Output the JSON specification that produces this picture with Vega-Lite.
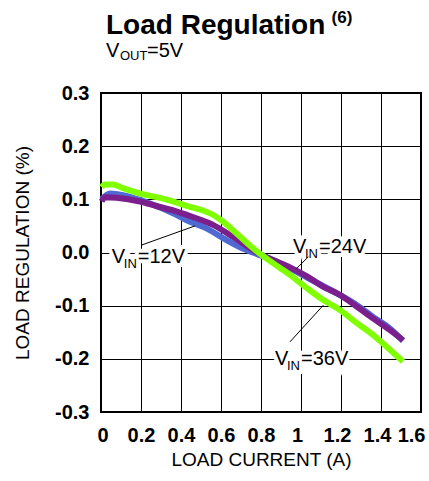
{
  "$schema": "https://vega.github.io/schema/vega-lite/v6.json",
  "width": 320,
  "height": 319,
  "autosize": "none",
  "padding": {"left": 101, "top": 93, "right": 8, "bottom": 69},
  "background": "white",
  "title": {
    "text": "Load Regulation",
    "anchor": "start",
    "frame": "group",
    "dx": 5,
    "offset": -53,
    "baseline": "alphabetic",
    "font": "Liberation Sans",
    "fontSize": 28,
    "fontWeight": "bold",
    "color": "black"
  },
  "datasets": {
    "curves": [
      {"vin": "12V", "current": 0.003, "reg": 0.100},
      {"vin": "12V", "current": 0.045, "reg": 0.111},
      {"vin": "12V", "current": 0.11, "reg": 0.108},
      {"vin": "12V", "current": 0.195, "reg": 0.099},
      {"vin": "12V", "current": 0.28, "reg": 0.087},
      {"vin": "12V", "current": 0.36, "reg": 0.074},
      {"vin": "12V", "current": 0.445, "reg": 0.058},
      {"vin": "12V", "current": 0.53, "reg": 0.045},
      {"vin": "12V", "current": 0.61, "reg": 0.027},
      {"vin": "12V", "current": 0.695, "reg": 0.010},
      {"vin": "12V", "current": 0.78, "reg": -0.003},
      {"vin": "12V", "current": 0.86, "reg": -0.014},
      {"vin": "12V", "current": 0.945, "reg": -0.030},
      {"vin": "12V", "current": 1.03, "reg": -0.047},
      {"vin": "12V", "current": 1.11, "reg": -0.063},
      {"vin": "12V", "current": 1.195, "reg": -0.080},
      {"vin": "12V", "current": 1.28, "reg": -0.099},
      {"vin": "12V", "current": 1.36, "reg": -0.121},
      {"vin": "12V", "current": 1.445, "reg": -0.143},
      {"vin": "12V", "current": 1.51, "reg": -0.166},
      {"vin": "24V", "current": 0.003, "reg": 0.096},
      {"vin": "24V", "current": 0.02, "reg": 0.104},
      {"vin": "24V", "current": 0.078, "reg": 0.103},
      {"vin": "24V", "current": 0.195, "reg": 0.096},
      {"vin": "24V", "current": 0.28, "reg": 0.087},
      {"vin": "24V", "current": 0.38, "reg": 0.077},
      {"vin": "24V", "current": 0.48, "reg": 0.064},
      {"vin": "24V", "current": 0.56, "reg": 0.052},
      {"vin": "24V", "current": 0.645, "reg": 0.033},
      {"vin": "24V", "current": 0.73, "reg": 0.012},
      {"vin": "24V", "current": 0.78, "reg": 0.000},
      {"vin": "24V", "current": 0.86, "reg": -0.014},
      {"vin": "24V", "current": 0.945, "reg": -0.028},
      {"vin": "24V", "current": 1.03, "reg": -0.045},
      {"vin": "24V", "current": 1.11, "reg": -0.064},
      {"vin": "24V", "current": 1.195, "reg": -0.080},
      {"vin": "24V", "current": 1.28, "reg": -0.102},
      {"vin": "24V", "current": 1.36, "reg": -0.124},
      {"vin": "24V", "current": 1.445, "reg": -0.146},
      {"vin": "24V", "current": 1.51, "reg": -0.165},
      {"vin": "36V", "current": 0.003, "reg": 0.123},
      {"vin": "36V", "current": 0.02, "reg": 0.128},
      {"vin": "36V", "current": 0.06, "reg": 0.128},
      {"vin": "36V", "current": 0.11, "reg": 0.121},
      {"vin": "36V", "current": 0.195, "reg": 0.111},
      {"vin": "36V", "current": 0.28, "reg": 0.104},
      {"vin": "36V", "current": 0.36, "reg": 0.096},
      {"vin": "36V", "current": 0.445, "reg": 0.086},
      {"vin": "36V", "current": 0.51, "reg": 0.079},
      {"vin": "36V", "current": 0.56, "reg": 0.071},
      {"vin": "36V", "current": 0.61, "reg": 0.058},
      {"vin": "36V", "current": 0.66, "reg": 0.042},
      {"vin": "36V", "current": 0.73, "reg": 0.018},
      {"vin": "36V", "current": 0.78, "reg": 0.002},
      {"vin": "36V", "current": 0.86, "reg": -0.020},
      {"vin": "36V", "current": 0.945, "reg": -0.042},
      {"vin": "36V", "current": 1.03, "reg": -0.067},
      {"vin": "36V", "current": 1.11, "reg": -0.089},
      {"vin": "36V", "current": 1.195, "reg": -0.108},
      {"vin": "36V", "current": 1.28, "reg": -0.133},
      {"vin": "36V", "current": 1.36, "reg": -0.155},
      {"vin": "36V", "current": 1.445, "reg": -0.183},
      {"vin": "36V", "current": 1.51, "reg": -0.205}
    ],
    "labels": [
      {"current": 0.054, "reg": -0.020, "main": "V", "sub": "IN", "rest": "=12V"},
      {"current": 0.96, "reg": -0.001, "main": "V", "sub": "IN", "rest": "=24V"},
      {"current": 0.87, "reg": -0.212, "main": "V", "sub": "IN", "rest": "=36V"}
    ],
    "header": [
      {"current": 0.025, "reg": 0.368, "main": "V", "sub": "OUT", "rest": "=5V"}
    ],
    "note": [
      {"current": 1.153, "reg": 0.432, "text": "(6)"}
    ],
    "leaders": [
      {"current": 0.203, "reg": 0.014, "current2": 0.47, "reg2": 0.050},
      {"current": 1.037, "reg": -0.008, "current2": 0.978, "reg2": -0.030},
      {"current": 0.945, "reg": -0.168, "current2": 1.112, "reg2": -0.099}
    ]
  },
  "layer": [
    {
      "data": {"name": "curves"},
      "mark": {"type": "line", "strokeWidth": 6, "interpolate": "monotone"},
      "encoding": {
        "x": {
          "field": "current",
          "type": "quantitative",
          "scale": {"domain": [0, 1.6], "nice": false, "zero": false},
          "axis": {
            "title": "LOAD CURRENT (A)",
            "values": [0, 0.2, 0.4, 0.6, 0.8, 1, 1.2, 1.4, 1.6],
            "tickCount": 10,
            "format": "~g",
            "labelOffset": {"condition": {"test": "datum.value >= 0.95 && datum.value <= 1.45", "value": -4}, "value": 0},
            "labelFlush": true,
            "labelFlushOffset": 4,
            "labelOverlap": false,
            "labelPadding": 13,
            "titlePadding": 5
          }
        },
        "y": {
          "field": "reg",
          "type": "quantitative",
          "scale": {"domain": [-0.3, 0.3], "nice": false, "zero": false},
          "axis": {
            "title": "LOAD REGULATION (%)",
            "values": [-0.3, -0.2, -0.1, 0, 0.1, 0.2, 0.3],
            "tickCount": 8,
            "labelExpr": "replace(format(datum.value, '.1f'), '\u2212', '-')",
            "labelOverlap": false,
            "labelPadding": 12,
            "titlePadding": 22
          }
        },
        "color": {
          "field": "vin",
          "type": "nominal",
          "scale": {"domain": ["12V", "24V", "36V"], "range": ["#4f68d2", "#7b1f8e", "#80ff00"]},
          "legend": null
        }
      }
    },
    {
      "data": {"name": "labels"},
      "mark": {"type": "text", "align": "left", "baseline": "alphabetic", "font": "Liberation Sans", "fontSize": 20, "stroke": "white", "strokeWidth": 8, "fill": "white"},
      "encoding": {"x": {"field": "current", "type": "quantitative"}, "y": {"field": "reg", "type": "quantitative"}, "text": {"field": "main"}}
    },
    {
      "data": {"name": "labels"},
      "mark": {"type": "text", "align": "left", "baseline": "alphabetic", "font": "Liberation Sans", "fontSize": 13, "dx": 12, "dy": 5, "stroke": "white", "strokeWidth": 8, "fill": "white"},
      "encoding": {"x": {"field": "current", "type": "quantitative"}, "y": {"field": "reg", "type": "quantitative"}, "text": {"field": "sub"}}
    },
    {
      "data": {"name": "labels"},
      "mark": {"type": "text", "align": "left", "baseline": "alphabetic", "font": "Liberation Sans", "fontSize": 20, "dx": 26, "stroke": "white", "strokeWidth": 8, "fill": "white"},
      "encoding": {"x": {"field": "current", "type": "quantitative"}, "y": {"field": "reg", "type": "quantitative"}, "text": {"field": "rest"}}
    },
    {
      "data": {"name": "leaders"},
      "mark": {"type": "rule", "color": "black", "strokeWidth": 1},
      "encoding": {
        "x": {"field": "current", "type": "quantitative"},
        "y": {"field": "reg", "type": "quantitative"},
        "x2": {"field": "current2"},
        "y2": {"field": "reg2"}
      }
    },
    {
      "data": {"name": "labels"},
      "mark": {"type": "text", "align": "left", "baseline": "alphabetic", "font": "Liberation Sans", "fontSize": 20, "color": "black"},
      "encoding": {"x": {"field": "current", "type": "quantitative"}, "y": {"field": "reg", "type": "quantitative"}, "text": {"field": "main"}}
    },
    {
      "data": {"name": "labels"},
      "mark": {"type": "text", "align": "left", "baseline": "alphabetic", "font": "Liberation Sans", "fontSize": 13, "dx": 12, "dy": 5, "color": "black"},
      "encoding": {"x": {"field": "current", "type": "quantitative"}, "y": {"field": "reg", "type": "quantitative"}, "text": {"field": "sub"}}
    },
    {
      "data": {"name": "labels"},
      "mark": {"type": "text", "align": "left", "baseline": "alphabetic", "font": "Liberation Sans", "fontSize": 20, "dx": 26, "color": "black"},
      "encoding": {"x": {"field": "current", "type": "quantitative"}, "y": {"field": "reg", "type": "quantitative"}, "text": {"field": "rest"}}
    },
    {
      "data": {"name": "header"},
      "mark": {"type": "text", "align": "left", "baseline": "alphabetic", "font": "Liberation Sans", "fontSize": 20, "color": "black"},
      "encoding": {"x": {"field": "current", "type": "quantitative"}, "y": {"field": "reg", "type": "quantitative"}, "text": {"field": "main"}}
    },
    {
      "data": {"name": "header"},
      "mark": {"type": "text", "align": "left", "baseline": "alphabetic", "font": "Liberation Sans", "fontSize": 13, "dx": 14, "dy": 3, "color": "black"},
      "encoding": {"x": {"field": "current", "type": "quantitative"}, "y": {"field": "reg", "type": "quantitative"}, "text": {"field": "sub"}}
    },
    {
      "data": {"name": "header"},
      "mark": {"type": "text", "align": "left", "baseline": "alphabetic", "font": "Liberation Sans", "fontSize": 20, "dx": 41, "color": "black"},
      "encoding": {"x": {"field": "current", "type": "quantitative"}, "y": {"field": "reg", "type": "quantitative"}, "text": {"field": "rest"}}
    },
    {
      "data": {"name": "note"},
      "mark": {"type": "text", "align": "left", "baseline": "alphabetic", "font": "Liberation Sans", "fontSize": 17, "fontWeight": "bold", "color": "black"},
      "encoding": {"x": {"field": "current", "type": "quantitative"}, "y": {"field": "reg", "type": "quantitative"}, "text": {"field": "text"}}
    }
  ],
  "config": {
    "view": {"stroke": "black", "strokeWidth": 2},
    "axis": {
      "domain": false,
      "ticks": false,
      "grid": true,
      "gridColor": "black",
      "gridOpacity": 1,
      "gridWidth": 1,
      "labelFont": "Liberation Sans",
      "labelFontSize": 20,
      "labelFontWeight": "bold",
      "labelColor": "black",
      "titleFont": "Liberation Sans",
      "titleFontSize": 19,
      "titleFontWeight": "normal",
      "titleColor": "black"
    }
  }
}
